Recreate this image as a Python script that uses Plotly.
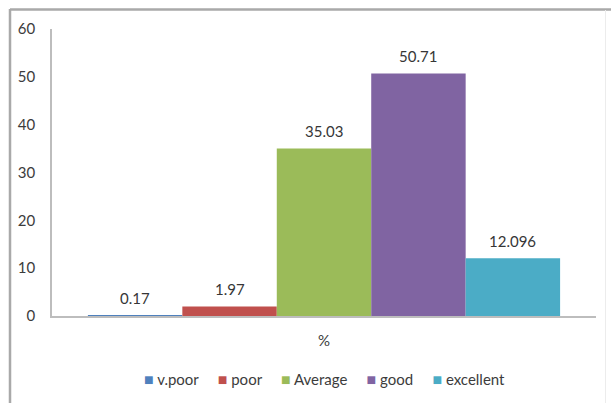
import plotly.graph_objects as go

# Survey result, share of responses per rating (%)
category = ["%"]
series_names = ["v.poor", "poor", "Average", "good", "excellent"]
series_values = [0.17, 1.97, 35.03, 50.71, 12.096]
series_labels = ["0.17", "1.97", "35.03", "50.71", "12.096"]
series_colors = ["#4F81BD", "#C0504D", "#9BBB59", "#8064A2", "#4BACC6"]
y_ticks = [0, 10, 20, 30, 40, 50, 60]

FONT = "Lato"
TEXT_COLOR = "#3c3c3c"
BARGAP = 0.132

fig = go.Figure()
for name, val, color in zip(series_names, series_values, series_colors):
    fig.add_trace(go.Bar(
        x=category, y=[val], name=name,
        marker=dict(color=color, line=dict(width=0)),
        showlegend=False,
    ))

# value labels above each bar (grouped bars share the single category slot)
n = len(series_names)
bar_w = (1 - BARGAP) / n
for i, (val, lab) in enumerate(zip(series_values, series_labels)):
    xc = -0.5 + BARGAP / 2 + (i + 0.5) * bar_w
    fig.add_annotation(
        x=xc, y=val, xref="x", yref="y", text=lab, showarrow=False,
        yanchor="middle", yshift=17.5,
        font=dict(family=FONT, size=15, color="#363636"),
    )

# legend row built as one line of coloured squares and names
nb = "\u00a0"
parts = []
for name, color in zip(series_names, series_colors):
    parts.append(
        f"<span style='color:{color};font-size:16px'>\u25A0</span>{nb}{name}"
    )
legend_text = (nb * 5).join(parts)
fig.add_annotation(
    x=0.5, y=-0.219, xref="paper", yref="paper", text=legend_text,
    showarrow=False, xanchor="center", yanchor="middle",
    font=dict(family=FONT, size=15, color=TEXT_COLOR),
)

# chart frame
L, T, R = 52, 29, 596
B = 316
W, H = 611, 403
pw, ph = R - L, B - T


def px(x):
    return (x - L) / pw


def py(y):
    return (B - y) / ph


fig.add_shape(type="line", xref="paper", yref="paper",
              x0=px(10), x1=px(10), y0=py(9), y1=py(420),
              line=dict(color="#a9a9a9", width=2.5))
fig.add_shape(type="line", xref="paper", yref="paper",
              x0=px(10), x1=px(612), y0=py(9.5), y1=py(9.5),
              line=dict(color="#a9a9a9", width=2.5))
fig.add_shape(type="line", xref="paper", yref="paper",
              x0=px(605.5), x1=px(605.5), y0=py(10), y1=py(420),
              line=dict(color="#ececec", width=1))

fig.update_layout(
    width=W, height=H,
    margin=dict(l=L, r=W - R, t=T, b=H - B),
    barmode="group", bargap=BARGAP, bargroupgap=0,
    plot_bgcolor="white", paper_bgcolor="white",
    font=dict(family=FONT, size=15, color=TEXT_COLOR),
    xaxis=dict(
        type="category", showgrid=False, showline=True,
        linecolor="#bdbdbd", linewidth=1.5, ticks="",
        ticklabelstandoff=10, tickfont=dict(size=15, color=TEXT_COLOR),
        range=[-0.5, 0.5], fixedrange=True,
    ),
    yaxis=dict(
        range=[0, 60], tickvals=y_ticks, showgrid=False, zeroline=False,
        showline=True, linecolor="#bdbdbd", linewidth=1.5, ticks="",
        ticklabelstandoff=12, tickfont=dict(size=15, color=TEXT_COLOR),
    ),
    showlegend=False,
)

fig.write_html("out.html")
